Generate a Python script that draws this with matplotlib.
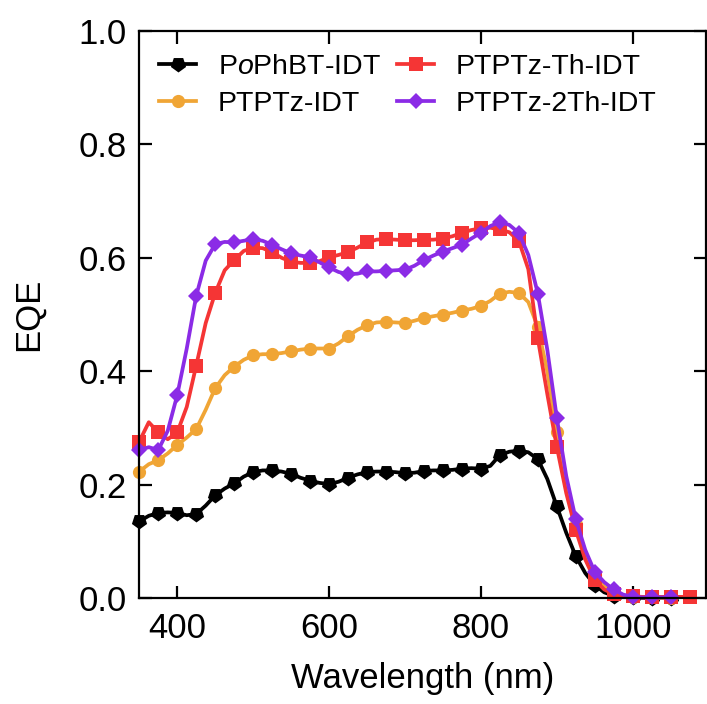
import numpy as np
from matplotlib import pyplot as plt

plt.rcParams['font.family'] = ['Liberation Sans', 'DejaVu Sans']
plt.rcParams['mathtext.fontset'] = 'custom'
plt.rcParams['mathtext.rm'] = 'Liberation Sans'
plt.rcParams['mathtext.it'] = 'Liberation Sans:italic'

# wavelength grid (nm), spectra sampled every 12.5 nm, markers every 25 nm
wl = np.arange(350, 1075.1, 12.5)

eqe_pophbt = [0.135, 0.145, 0.150, 0.151, 0.150, 0.146, 0.148, 0.163, 0.181, 0.193,
              0.202, 0.214, 0.222, 0.225, 0.225, 0.223, 0.219, 0.212, 0.207, 0.203,
              0.201, 0.205, 0.212, 0.218, 0.222, 0.223, 0.223, 0.222, 0.220, 0.221,
              0.224, 0.225, 0.225, 0.226, 0.228, 0.229, 0.228, 0.233, 0.252, 0.258,
              0.260, 0.257, 0.245, 0.210, 0.162, 0.115, 0.074, 0.044, 0.023, 0.010,
              0.004, 0.002, 0.001, 0.000, 0.000, 0.000, 0.000]

eqe_ptptz = [0.223, 0.236, 0.243, 0.255, 0.270, 0.283, 0.298, 0.332, 0.370, 0.393,
             0.408, 0.420, 0.428, 0.430, 0.430, 0.432, 0.435, 0.438, 0.440, 0.440,
             0.440, 0.449, 0.462, 0.473, 0.481, 0.486, 0.487, 0.486, 0.485, 0.489,
             0.494, 0.497, 0.500, 0.503, 0.507, 0.510, 0.515, 0.524, 0.537, 0.540,
             0.538, 0.522, 0.478, 0.400, 0.293, 0.200, 0.130, 0.075, 0.040, 0.020,
             0.010, 0.005, 0.002, 0.001, 0.001, 0.000, 0.000]

eqe_ptptz_th = [0.276, 0.310, 0.292, 0.280, 0.292, 0.337, 0.410, 0.485, 0.538, 0.578,
                0.596, 0.612, 0.618, 0.617, 0.610, 0.600, 0.593, 0.591, 0.591, 0.594,
                0.601, 0.605, 0.610, 0.618, 0.627, 0.632, 0.633, 0.632, 0.631, 0.631,
                0.632, 0.632, 0.634, 0.638, 0.644, 0.649, 0.652, 0.653, 0.650, 0.645,
                0.630, 0.580, 0.458, 0.360, 0.267, 0.185, 0.120, 0.068, 0.032, 0.015,
                0.007, 0.004, 0.003, 0.002, 0.002, 0.002, 0.002, 0.002, 0.002]

eqe_ptptz_2th = [0.261, 0.266, 0.261, 0.295, 0.358, 0.440, 0.533, 0.595, 0.624, 0.628,
                 0.627, 0.630, 0.633, 0.630, 0.623, 0.615, 0.608, 0.604, 0.601, 0.592,
                 0.583, 0.575, 0.571, 0.572, 0.576, 0.576, 0.577, 0.578, 0.579, 0.586,
                 0.596, 0.604, 0.611, 0.617, 0.623, 0.634, 0.644, 0.656, 0.663, 0.658,
                 0.644, 0.605, 0.537, 0.438, 0.318, 0.215, 0.139, 0.085, 0.046, 0.028,
                 0.015, 0.006, 0.002, 0.001, 0.001, 0.001, 0.001]

labels = [r'P$\mathit{o}$PhBT-IDT', 'PTPTz-IDT', 'PTPTz-Th-IDT', 'PTPTz-2Th-IDT']
colors = ['#000000', '#F0A535', '#F53535', '#8B2BE6']
markers = [(5, 0, 180), 'o', 's', 'D']
msizes = [11.5, 9.5, 9.5, 8.3]

fig = plt.figure(figsize=(7.07, 7.04), dpi=100)
ax = fig.add_axes([139.3 / 707, (704 - 598) / 704, 567 / 707, 567 / 704])

for y, lab, c, m, ms in zip([eqe_pophbt, eqe_ptptz, eqe_ptptz_th, eqe_ptptz_2th],
                            labels, colors, markers, msizes):
    ax.plot(wl[:len(y)], y, color=c, lw=2.7, marker=m, ms=ms, markevery=2,
            markeredgewidth=0, label=lab, clip_on=False)

ax.set_xlim(350, 1097)
ax.set_ylim(0, 1.0)
ax.set_xticks([400, 600, 800, 1000])
ax.set_yticks([0.0, 0.2, 0.4, 0.6, 0.8, 1.0])

for s in ax.spines.values():
    s.set_linewidth(1.6)
ax.tick_params(direction='in', length=9, width=1.6, top=True, right=True,
               labelsize=25)
ax.tick_params(axis='x', pad=10)
ax.tick_params(axis='y', pad=9)

ax.set_xlabel('Wavelength (nm)', fontsize=25, labelpad=12)
ax.set_ylabel('EQE', fontsize=25, labelpad=24)

ax.legend(ncol=2, frameon=False, fontsize=20.5, loc='upper left',
          bbox_to_anchor=(0.035, 0.96), borderpad=0, borderaxespad=0,
          handlelength=1.3, handletextpad=0.75, columnspacing=0.6,
          labelspacing=0.4)

fig.savefig('out.png', dpi=100)
